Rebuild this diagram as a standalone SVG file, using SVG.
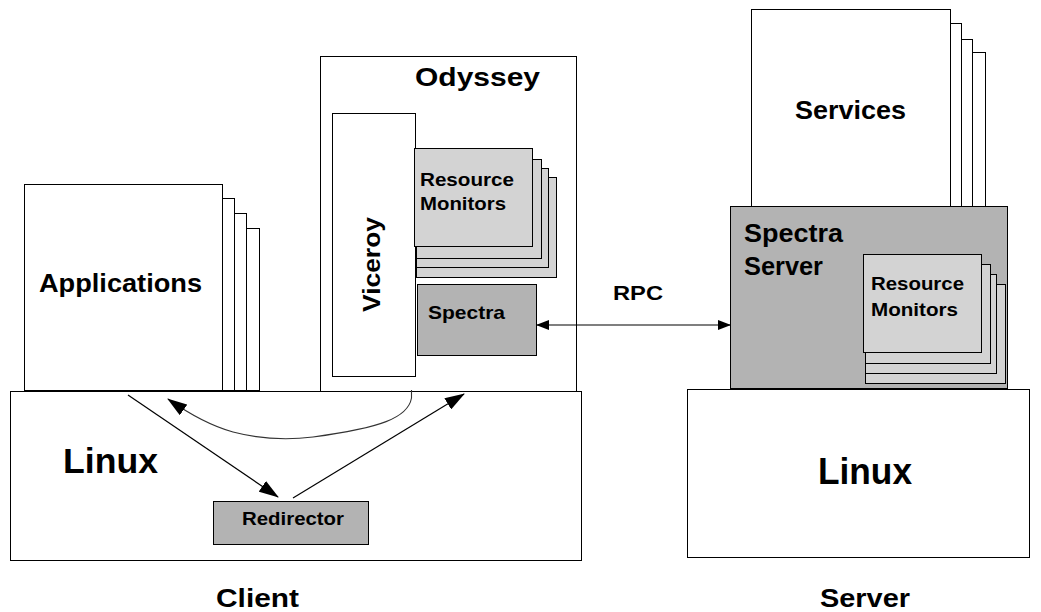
<svg xmlns="http://www.w3.org/2000/svg" width="1041" height="612" viewBox="0 0 1041 612">
<defs>
<style>
.b{fill:#fff;stroke:#000;stroke-width:1}
.lg{fill:#d3d3d3;stroke:#000;stroke-width:1}
.dg{fill:#b3b3b3;stroke:#000;stroke-width:1}
text{font-family:"Liberation Sans",Arial,Helvetica,sans-serif;font-weight:bold;fill:#000}
.ln{fill:none;stroke:#000;stroke-width:1.2}
</style>
<marker id="ah" viewBox="0 0 13 10" refX="12" refY="5" markerWidth="13" markerHeight="10" markerUnits="userSpaceOnUse" orient="auto-start-reverse">
<path d="M0,0 L13,5 L0,10 Z" fill="#000"/>
</marker>
<marker id="ahL" viewBox="0 0 20 13" refX="19" refY="6.5" markerWidth="20" markerHeight="13" markerUnits="userSpaceOnUse" orient="auto">
<path d="M0,0 L20,6.5 L0,13 Z" fill="#000"/>
</marker>
</defs>
<rect width="1041" height="612" fill="#fff"/>

<g id="client-linux">
<rect class="b" x="10.5" y="391.5" width="571" height="169"/>
<text x="63" y="473" font-size="35" textLength="95" lengthAdjust="spacingAndGlyphs">Linux</text>
</g>

<g id="applications">
<rect class="b" x="120.5" y="228.5" width="139" height="162"/>
<rect class="b" x="110.5" y="213.5" width="136" height="177"/>
<rect class="b" x="100.5" y="198.5" width="134" height="192"/>
<rect class="b" x="24.5" y="184.5" width="198" height="206"/>
<text x="39" y="292" font-size="25" textLength="163" lengthAdjust="spacingAndGlyphs">Applications</text>
</g>

<g id="odyssey">
<rect class="b" x="320.5" y="56.5" width="256" height="335"/>
<text x="415" y="86" font-size="25" textLength="125" lengthAdjust="spacingAndGlyphs">Odyssey</text>
</g>

<g id="viceroy">
<rect class="b" x="332.5" y="113.5" width="83" height="263"/>
<text transform="translate(380,312) rotate(-90)" x="0" y="0" font-size="24" textLength="95" lengthAdjust="spacingAndGlyphs">Viceroy</text>
</g>

<g id="client-resource-monitors">
<rect class="lg" x="416.5" y="177.5" width="140" height="100"/>
<rect class="lg" x="416.5" y="168.5" width="132" height="99"/>
<rect class="lg" x="416.5" y="159.5" width="125" height="99"/>
<rect class="lg" x="414.5" y="148.5" width="118" height="98"/>
<text x="420" y="186" font-size="17.5" textLength="94" lengthAdjust="spacingAndGlyphs">Resource</text>
<text x="420" y="210" font-size="17.5" textLength="86" lengthAdjust="spacingAndGlyphs">Monitors</text>
</g>

<g id="client-spectra">
<rect class="dg" x="417.5" y="284.5" width="119" height="71"/>
<text x="428" y="319" font-size="18.5" textLength="77" lengthAdjust="spacingAndGlyphs">Spectra</text>
</g>

<g id="redirector">
<rect class="dg" x="213.5" y="501.5" width="155" height="43"/>
<text x="242" y="525" font-size="19" textLength="102" lengthAdjust="spacingAndGlyphs">Redirector</text>
</g>

<g id="client-label">
<text x="216" y="607" font-size="25" textLength="83" lengthAdjust="spacingAndGlyphs">Client</text>
</g>

<g id="services">
<rect class="b" x="850.5" y="52.5" width="135" height="154"/>
<rect class="b" x="840.5" y="39.5" width="132" height="167"/>
<rect class="b" x="830.5" y="23.5" width="131" height="183"/>
<rect class="b" x="751.5" y="9.5" width="199" height="197"/>
<text x="795" y="119" font-size="25" textLength="111" lengthAdjust="spacingAndGlyphs">Services</text>
</g>

<g id="spectra-server">
<rect class="dg" x="730.5" y="206.5" width="277" height="182"/>
<text x="744" y="242" font-size="25" textLength="99" lengthAdjust="spacingAndGlyphs">Spectra</text>
<text x="744" y="275" font-size="25" textLength="79" lengthAdjust="spacingAndGlyphs">Server</text>
</g>

<g id="server-resource-monitors">
<rect class="lg" x="865.5" y="284.5" width="140" height="99"/>
<rect class="lg" x="865.5" y="274.5" width="131" height="99"/>
<rect class="lg" x="865.5" y="264.5" width="125" height="99"/>
<rect class="lg" x="863.5" y="254.5" width="118" height="98"/>
<text x="871" y="290" font-size="17.5" textLength="93" lengthAdjust="spacingAndGlyphs">Resource</text>
<text x="871" y="316" font-size="17.5" textLength="87" lengthAdjust="spacingAndGlyphs">Monitors</text>
</g>

<g id="server-linux">
<rect class="b" x="687.5" y="389.5" width="342" height="168"/>
<text x="818" y="484" font-size="36" textLength="94" lengthAdjust="spacingAndGlyphs">Linux</text>
</g>

<g id="server-label">
<text x="820" y="607" font-size="25" textLength="90" lengthAdjust="spacingAndGlyphs">Server</text>
</g>

<g id="rpc-label">
<text x="613" y="300" font-size="19.5" textLength="50" lengthAdjust="spacingAndGlyphs">RPC</text>
</g>

<g id="connectors">
<line class="ln" x1="537" y1="325" x2="730" y2="325" marker-start="url(#ah)" marker-end="url(#ah)"/>
<line class="ln" x1="128" y1="395" x2="278" y2="497" marker-end="url(#ahL)"/>
<line class="ln" x1="293" y1="498" x2="464" y2="394" marker-end="url(#ahL)"/>
<path d="M411.5,390 L411.5,398 C408,418 380,428 313,437 C290,440 260,439 233,432 C215,427 195,418 168,399" fill="none" stroke="#333" stroke-width="1.1" marker-end="url(#ahL)"/>
</g>
</svg>
